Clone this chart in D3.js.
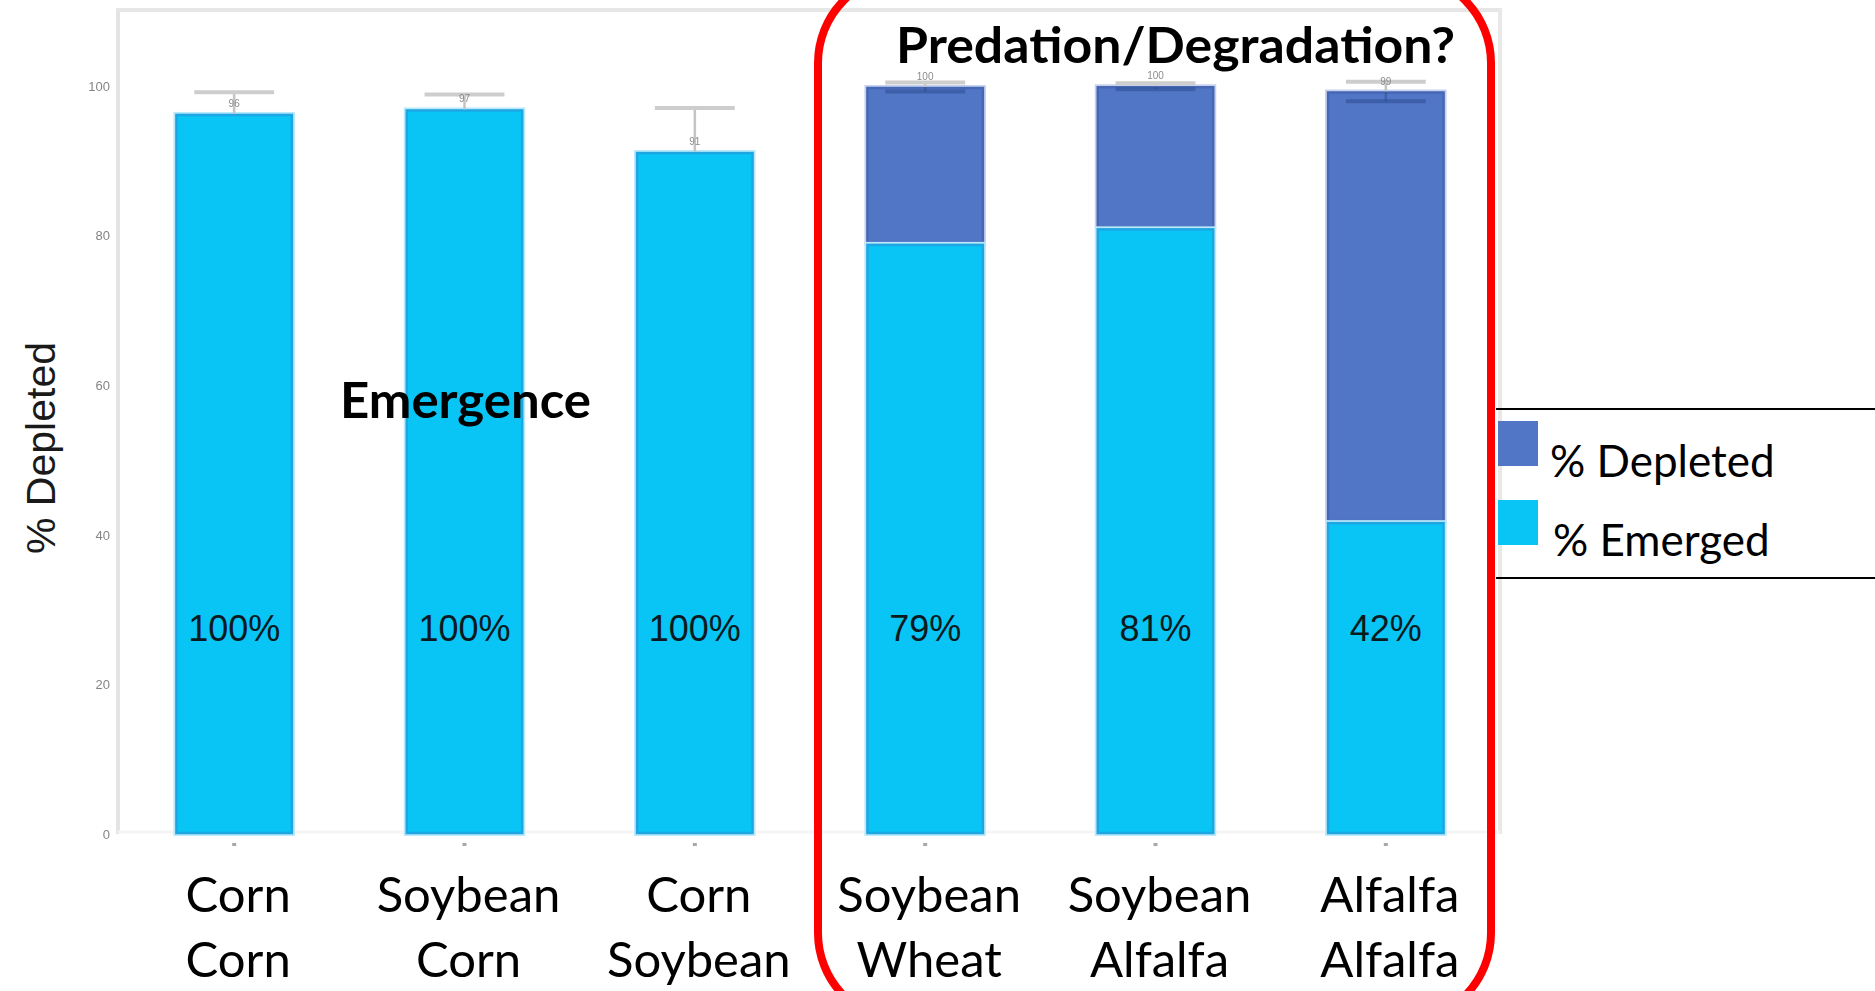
<!DOCTYPE html>
<html>
<head>
<meta charset="utf-8">
<script src="https://cdn.jsdelivr.net/npm/d3@7"></script>
<style>
  body { margin: 0; background: #ffffff; }
  svg { display: block; }
</style>
</head>
<body>
<svg id="chart" width="1875" height="991"></svg>
<script>
// Rotation: current crop (top line) after previous crop (bottom line)
const cropLine1 = ["Corn", "Soybean", "Corn", "Soybean", "Soybean", "Alfalfa"];
const cropLine2 = ["Corn", "Corn", "Soybean", "Wheat", "Alfalfa", "Alfalfa"];
// Total % depleted per rotation and its standard error
const totalDepleted = [96.3, 96.9, 91.2, 99.9, 100.0, 99.3];
const depletedSE = [2.9, 2.0, 5.9, 0.6, 0.4, 1.3];
// Share of the depletion explained by emergence (%)
const emergedShare = [100, 100, 100, 79, 81, 42];
const yTicks = [0, 20, 40, 60, 80, 100];
const seriesNames = ["% Depleted", "% Emerged"];

const colDepleted = "#5276c6";
const colEmerged = "#08c5f5";

const svg = d3.select("#chart");

const defs = svg.append("defs");
defs.append("filter").attr("id", "soft")
  .append("feGaussianBlur").attr("stdDeviation", 0.6);

const x = d3.scaleBand()
  .domain(d3.range(cropLine1.length))
  .range([119, 1501])
  .paddingInner(0.49)
  .paddingOuter(0.245);
const y = d3.scaleLinear().domain([0, 110.2]).range([834, 10]);

const rows = totalDepleted.map((t, i) => ({
  i,
  total: t,
  se: depletedSE[i],
  share: emergedShare[i],
  emerged: t * emergedShare[i] / 100
}));

// plot frame
const frame = svg.append("g");
frame.append("line").attr("x1", 118).attr("x2", 118).attr("y1", 8).attr("y2", 834)
  .attr("stroke", "#e4e4e4").attr("stroke-width", 4);
frame.append("line").attr("x1", 116).attr("x2", 1502).attr("y1", 10).attr("y2", 10)
  .attr("stroke", "#e6e6e6").attr("stroke-width", 4);
frame.append("line").attr("x1", 1500).attr("x2", 1500).attr("y1", 8).attr("y2", 834)
  .attr("stroke", "#e8e8e8").attr("stroke-width", 4);
frame.append("line").attr("x1", 118).attr("x2", 1500).attr("y1", 832).attr("y2", 832)
  .attr("stroke", "#f5f5f5").attr("stroke-width", 3);

// y axis tick labels
const yAxis = svg.append("g")
  .attr("transform", "translate(116,0)")
  .call(d3.axisLeft(y).tickValues(yTicks).tickSize(0).tickPadding(6));
yAxis.select(".domain").remove();
yAxis.selectAll("text")
  .attr("fill", "#858585")
  .attr("font-family", "Liberation Sans, Arial, sans-serif")
  .attr("font-size", 13)
  .attr("filter", "url(#soft)");

// small x tick marks
svg.append("g").selectAll("rect").data(rows).join("rect")
  .attr("x", d => x(d.i) + x.bandwidth() / 2 - 2)
  .attr("y", 843).attr("width", 4).attr("height", 3)
  .attr("fill", "#a8a8a8");

// upper whiskers (drawn behind the bars)
const err = svg.append("g");
err.selectAll("line.stem").data(rows).join("line")
  .attr("class", "stem")
  .attr("x1", d => x(d.i) + x.bandwidth() / 2)
  .attr("x2", d => x(d.i) + x.bandwidth() / 2)
  .attr("y1", d => y(d.total + d.se))
  .attr("y2", d => y(d.total))
  .attr("stroke", "#c4c4c4").attr("stroke-width", 2.5);
err.selectAll("line.cap").data(rows).join("line")
  .attr("class", "cap")
  .attr("x1", d => x(d.i) + x.bandwidth() * 0.16)
  .attr("x2", d => x(d.i) + x.bandwidth() * 0.84)
  .attr("y1", d => y(d.total + d.se))
  .attr("y2", d => y(d.total + d.se))
  .attr("stroke", "#cdcdcd").attr("stroke-width", 4);

// stacked bars
function drawSegment(sel, y0, y1, fill, edge, halo) {
  sel.append("rect")
    .attr("x", d => x(d.i) - 2)
    .attr("y", d => y(y1(d)) - 2)
    .attr("width", x.bandwidth() + 4)
    .attr("height", d => Math.max(0, y(y0(d)) - y(y1(d)) + 4))
    .attr("fill", halo);
  sel.append("rect")
    .attr("x", d => x(d.i) + 1)
    .attr("y", d => y(y1(d)) + 1)
    .attr("width", x.bandwidth() - 2)
    .attr("height", d => Math.max(0, y(y0(d)) - y(y1(d)) - 2))
    .attr("fill", fill)
    .attr("stroke", edge).attr("stroke-width", 2.5);
}
const bars = svg.append("g").selectAll("g").data(rows).join("g");
drawSegment(bars.filter(d => d.total > d.emerged + 0.01),
  d => d.emerged, d => d.total, colDepleted, "#4667b6", "#c6d1ee");
drawSegment(bars, d => 0, d => d.emerged, colEmerged, "#1fa6e2", "#b9e9fb");

// lower whiskers show through the depleted segment
const lowerInside = rows.filter(d => d.total - d.se > d.emerged);
err.raise();
svg.append("g").selectAll("line").data(lowerInside).join("line")
  .attr("x1", d => x(d.i) + x.bandwidth() * 0.16)
  .attr("x2", d => x(d.i) + x.bandwidth() * 0.84)
  .attr("y1", d => y(d.total - d.se))
  .attr("y2", d => y(d.total - d.se))
  .attr("stroke", "#2c4a8f").attr("stroke-opacity", 0.55).attr("stroke-width", 4);
svg.append("g").selectAll("line").data(lowerInside).join("line")
  .attr("x1", d => x(d.i) + x.bandwidth() / 2)
  .attr("x2", d => x(d.i) + x.bandwidth() / 2)
  .attr("y1", d => y(d.total))
  .attr("y2", d => y(d.total - d.se))
  .attr("stroke", "#2c4a8f").attr("stroke-opacity", 0.45).attr("stroke-width", 2.5);

// tiny mean labels above each bar
svg.append("g").selectAll("text").data(rows).join("text")
  .attr("x", d => x(d.i) + x.bandwidth() / 2)
  .attr("y", d => y(d.total) - 7)
  .attr("text-anchor", "middle")
  .attr("font-family", "Liberation Sans, Arial, sans-serif")
  .attr("font-size", 10)
  .attr("fill", "#8c8c8c")
  .attr("filter", "url(#soft)")
  .text(d => d3.format(".0f")(d.total));

// emergence share labels
const labelLevel = 27.5;
svg.append("g").selectAll("text").data(rows).join("text")
  .attr("x", d => x(d.i) + x.bandwidth() / 2)
  .attr("y", y(labelLevel) + 13)
  .attr("text-anchor", "middle")
  .attr("font-family", "Liberation Sans, Arial, sans-serif")
  .attr("font-size", 36)
  .attr("fill", "#0b1a20")
  .text(d => d.share + "%");

// category labels, two lines
const xl = svg.append("g")
  .attr("font-family", "Lato, 'Open Sans', sans-serif")
  .attr("font-size", 49)
  .attr("fill", "#000")
  .attr("text-anchor", "middle");
xl.selectAll("text.l1").data(cropLine1).join("text")
  .attr("class", "l1")
  .attr("x", (d, i) => x(i) + x.bandwidth() / 2 + 4)
  .attr("y", 912)
  .text(d => d);
xl.selectAll("text.l2").data(cropLine2).join("text")
  .attr("class", "l2")
  .attr("x", (d, i) => x(i) + x.bandwidth() / 2 + 4)
  .attr("y", 977)
  .text(d => d);

// y axis title
svg.append("text")
  .attr("transform", "translate(55,448) rotate(-90)")
  .attr("text-anchor", "middle")
  .attr("font-family", "Liberation Sans, Arial, sans-serif")
  .attr("font-size", 41)
  .attr("fill", "#1a1a1a")
  .text("% Depleted");

// annotations
svg.append("text")
  .attr("x", 340).attr("y", 418)
  .attr("font-family", "Lato, sans-serif")
  .attr("font-weight", 700)
  .attr("font-size", 50)
  .attr("textLength", 251)
  .attr("lengthAdjust", "spacingAndGlyphs")
  .attr("fill", "#000")
  .text("Emergence");

svg.append("text")
  .attr("x", 896).attr("y", 63)
  .attr("font-family", "Lato, sans-serif")
  .attr("font-weight", 700)
  .attr("font-size", 50)
  .attr("textLength", 559)
  .attr("lengthAdjust", "spacingAndGlyphs")
  .attr("fill", "#000")
  .text("Predation/Degradation?");

svg.append("rect")
  .attr("x", 818).attr("y", -26)
  .attr("width", 673).attr("height", 1048)
  .attr("rx", 89).attr("ry", 89)
  .attr("fill", "none")
  .attr("stroke", "#ff0000")
  .attr("stroke-width", 8);

// legend
const legend = svg.append("g");
legend.append("line").attr("x1", 1496).attr("x2", 1875).attr("y1", 409).attr("y2", 409)
  .attr("stroke", "#000").attr("stroke-width", 2);
legend.append("line").attr("x1", 1496).attr("x2", 1875).attr("y1", 578).attr("y2", 578)
  .attr("stroke", "#000").attr("stroke-width", 2);
const legColors = [colDepleted, colEmerged];
const legItems = legend.selectAll("g").data(seriesNames).join("g")
  .attr("transform", (d, i) => `translate(1498,${421 + i * 79})`);
legItems.append("rect").attr("width", 40).attr("height", 45)
  .attr("fill", (d, i) => legColors[i]);
legItems.append("text")
  .attr("x", (d, i) => 52 + i * 3).attr("y", 56)
  .attr("font-family", "Lato, sans-serif")
  .attr("font-size", 44)
  .attr("fill", "#000")
  .text(d => d);
</script>
</body>
</html>
